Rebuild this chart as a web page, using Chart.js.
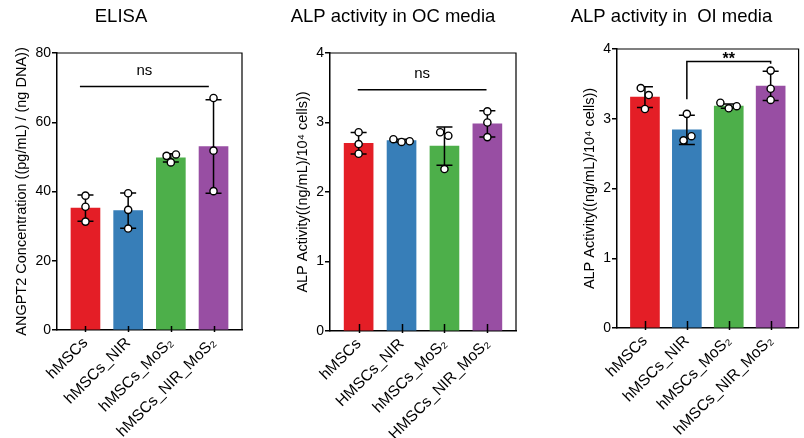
<!DOCTYPE html>
<html>
<head>
<meta charset="utf-8">
<script src="https://cdn.jsdelivr.net/npm/chart.js@4.4.1/dist/chart.umd.min.js"></script>
<style>
    body { margin: 0; background: #fff; width: 804px; height: 438px; position: relative; overflow: hidden; }
    canvas { position: absolute; top: 0; }
</style>
</head>
<body>
<canvas id="elisaChart" width="268" height="438" style="left:0"></canvas>
<canvas id="ocChart" width="268" height="438" style="left:270px"></canvas>
<canvas id="oiChart" width="264" height="438" style="left:540px"></canvas>
<script>
// Datos
const labelsA = ['hMSCs', 'hMSCs_NIR', 'hMSCs_MoS₂', 'hMSCs_NIR_MoS₂'];
const labelsB = ['hMSCs', 'HMSCs_NIR', 'hMSCs_MoS₂', 'HMSCs_NIR_MoS₂'];
const barColors = ['#e41e26', '#377eb8', '#4daf4a', '#984ea3'];

const elisaMeans = [35.2, 34.5, 49.7, 53.0];
const elisaSD = [3.8, 5.1, 1.2, 13.5];
const elisaPoints = [[38.8, 35.6, 31.3], [39.5, 34.7, 29.3], [50.3, 50.7, 48.4], [67.0, 51.8, 40.1]];
const elisaJitter = [[0, 0, 0], [0, 0, 0], [-0.1, 0.12, 0], [0, 0, 0]];
const elisaTicks = [0, 20, 40, 60, 80];

const ocMeans = [2.70, 2.74, 2.66, 2.98];
const ocSD = [0.155, 0.02, 0.275, 0.19];
const ocPoints = [[2.86, 2.69, 2.55], [2.76, 2.72, 2.73], [2.86, 2.81, 2.33], [3.16, 3.00, 2.79]];
const ocJitter = [[0, 0, 0], [-0.19, 0, 0.19], [-0.1, 0.09, 0], [0, 0, 0]];

const oiMeans = [3.31, 2.84, 3.18, 3.47];
const oiSD = [0.15, 0.21, 0.03, 0.21];
const oiPoints = [[3.44, 3.34, 3.14], [3.07, 2.75, 2.69], [3.23, 3.15, 3.18], [3.69, 3.43, 3.27]];
const oiJitter = [[-0.1, 0.09, 0], [0, 0.11, -0.08], [-0.2, 0, 0.19], [0, 0, 0]];
const alpTicks = [0, 1, 2, 3, 4];

const FONT = "'Liberation Sans', Arial, sans-serif";

// barras de error, marco, ticks internos y marcas de significancia
const extrasPlugin = {
    id: 'extras',
    afterDatasetDraw(chart, args) {
        if (args.index !== 0) return;
        const o = chart.options.plugins.extras;
        const { x, y } = chart.scales;
        const ctx = chart.ctx;
        ctx.save();
        ctx.strokeStyle = '#000';
        ctx.lineWidth = 1.5;
        o.means.forEach((m, i) => {
            const px = x.getPixelForValue(i);
            const top = y.getPixelForValue(m + o.sd[i]);
            const bot = y.getPixelForValue(m - o.sd[i]);
            ctx.beginPath();
            ctx.moveTo(px, top); ctx.lineTo(px, bot);
            ctx.moveTo(px - 8, top); ctx.lineTo(px + 8, top);
            ctx.moveTo(px - 8, bot); ctx.lineTo(px + 8, bot);
            ctx.stroke();
        });
        ctx.restore();
    },
    afterDraw(chart) {
        const o = chart.options.plugins.extras;
        const { x, y } = chart.scales;
        const { ctx, chartArea } = chart;
        ctx.save();
        ctx.strokeStyle = '#000';
        ctx.lineWidth = 1.2;
        ctx.beginPath();
        ctx.moveTo(chartArea.left, chartArea.top);
        ctx.lineTo(chartArea.right, chartArea.top);
        ctx.lineTo(chartArea.right, chartArea.bottom);
        ctx.stroke();

        // ticks del eje x hacia adentro
        ctx.lineWidth = 1.5;
        ctx.beginPath();
        o.means.forEach((_, i) => {
            const px = Math.round(x.getPixelForValue(i)) + 0.5;
            ctx.moveTo(px, chartArea.bottom + 2);
            ctx.lineTo(px, chartArea.bottom - o.tickLen);
        });
        ctx.stroke();

        const s = o.sig;
        const x1 = x.getPixelForValue(s.from), x2 = x.getPixelForValue(s.to);
        const ly = y.getPixelForValue(s.y);
        ctx.beginPath();
        if (s.legs) {
            ctx.moveTo(x1, y.getPixelForValue(s.legs[0]));
            ctx.lineTo(x1, ly);
            ctx.lineTo(x2, ly);
            ctx.lineTo(x2, y.getPixelForValue(s.legs[1]));
        } else {
            ctx.moveTo(x1, ly); ctx.lineTo(x2, ly);
        }
        ctx.stroke();
        ctx.fillStyle = '#000';
        ctx.textAlign = 'center';
        if (s.text === 'ns') {
            ctx.font = '15px ' + FONT;
            ctx.textBaseline = 'middle';
            ctx.fillText(s.text, (x1 + x2) / 2, ly - 16);
        } else {
            ctx.font = 'bold 16px ' + FONT;
            ctx.textBaseline = 'alphabetic';
            ctx.fillText(s.text, (x1 + x2) / 2, ly + 2);
        }
        ctx.restore();
    }
};

const makePanel = (id, p) => {
    const ctx = document.getElementById(id).getContext('2d');
    return new Chart(ctx, {
        type: 'bar',
        data: {
            datasets: [{
                type: 'bar',
                data: p.means.map((v, i) => ({ x: i, y: v })),
                backgroundColor: barColors,
                borderWidth: 0,
                barThickness: 29,
                order: 2
            }, {
                type: 'scatter',
                data: p.points.flatMap((arr, i) => arr.map((v, k) => ({ x: i + p.jitter[i][k], y: v }))),
                pointRadius: 3.6,
                pointBackgroundColor: '#fff',
                pointBorderColor: '#000',
                pointBorderWidth: 1.4,
                order: 1
            }]
        },
        options: {
            responsive: false,
            animation: false,
            layout: { padding: { left: 0, right: p.padRight, top: 0, bottom: 0 } },
            plugins: {
                legend: { display: false },
                tooltip: { enabled: false },
                title: {
                    display: true,
                    text: p.title,
                    color: '#000',
                    font: { family: FONT, size: 18.5, weight: 'normal' },
                    padding: { top: 6, bottom: p.plotTop - 6 - 22.2 }
                },
                extras: { means: p.means, sd: p.sd, sig: p.sig, tickLen: p.xTickLen }
            },
            scales: {
                x: {
                    type: 'linear',
                    offset: false,
                    min: -0.667,
                    max: 3.667,
                    afterBuildTicks: s => { s.ticks = p.labels.map((_, i) => ({ value: i })); },
                    afterFit: s => { s.height = 438 - p.plotBottom; },
                    grid: { drawOnChartArea: false, drawTicks: false },
                    border: { display: true, color: '#000', width: 1.5 },
                    ticks: {
                        autoSkip: false,
                        minRotation: 45,
                        maxRotation: 45,
                        padding: 4,
                        color: '#000',
                        font: { family: FONT, size: 15.5 },
                        callback: v => p.labels[v]
                    }
                },
                y: {
                    min: 0,
                    max: p.yTicks[p.yTicks.length - 1],
                    afterBuildTicks: s => { s.ticks = p.yTicks.map(v => ({ value: v })); },
                    afterFit: s => { s.width = p.plotLeft; },
                    grid: { drawOnChartArea: false, color: '#000', lineWidth: 1.5, tickLength: 5 },
                    border: { display: true, color: '#000', width: 1.5 },
                    ticks: { color: '#000', padding: 1, font: { family: FONT, size: 14 } },
                    title: {
                        display: true,
                        text: p.yTitle,
                        color: '#000',
                        font: { family: FONT, size: 14.5 },
                        padding: { top: p.yTitlePad, bottom: 0 }
                    }
                }
            }
        },
        plugins: [extrasPlugin]
    });
};

makePanel('elisaChart', {
    title: 'ELISA',
    yTitle: 'ANGPT2 Concentration ((pg/mL) / (ng DNA))',
    labels: labelsA, means: elisaMeans, sd: elisaSD, points: elisaPoints, jitter: elisaJitter,
    yTicks: elisaTicks,
    sig: { from: -0.13, to: 2.89, y: 70.3, text: 'ns' },
    plotLeft: 57, padRight: 26, plotTop: 53, plotBottom: 330, yTitlePad: 13, xTickLen: 4
});

makePanel('ocChart', {
    title: 'ALP activity in OC media',
    yTitle: 'ALP Activity((ng/mL)/10⁴ cells))',
    labels: labelsB, means: ocMeans, sd: ocSD, points: ocPoints, jitter: ocJitter,
    yTicks: alpTicks,
    sig: { from: -0.02, to: 2.98, y: 3.47, text: 'ns' },
    plotLeft: 60, padRight: 22, plotTop: 53, plotBottom: 331, yTitlePad: 24, xTickLen: 7
});

makePanel('oiChart', {
    title: 'ALP activity in  OI media',
    yTitle: 'ALP Activity((ng/mL)/10⁴ cells))',
    labels: labelsA, means: oiMeans, sd: oiSD, points: oiPoints, jitter: oiJitter,
    yTicks: alpTicks,
    sig: { from: 1, to: 3, y: 3.82, legs: [3.28, 3.79], text: '**' },
    plotLeft: 77, padRight: 1, plotTop: 49, plotBottom: 328, yTitlePad: 41, xTickLen: 7
});
</script>
</body>
</html>
